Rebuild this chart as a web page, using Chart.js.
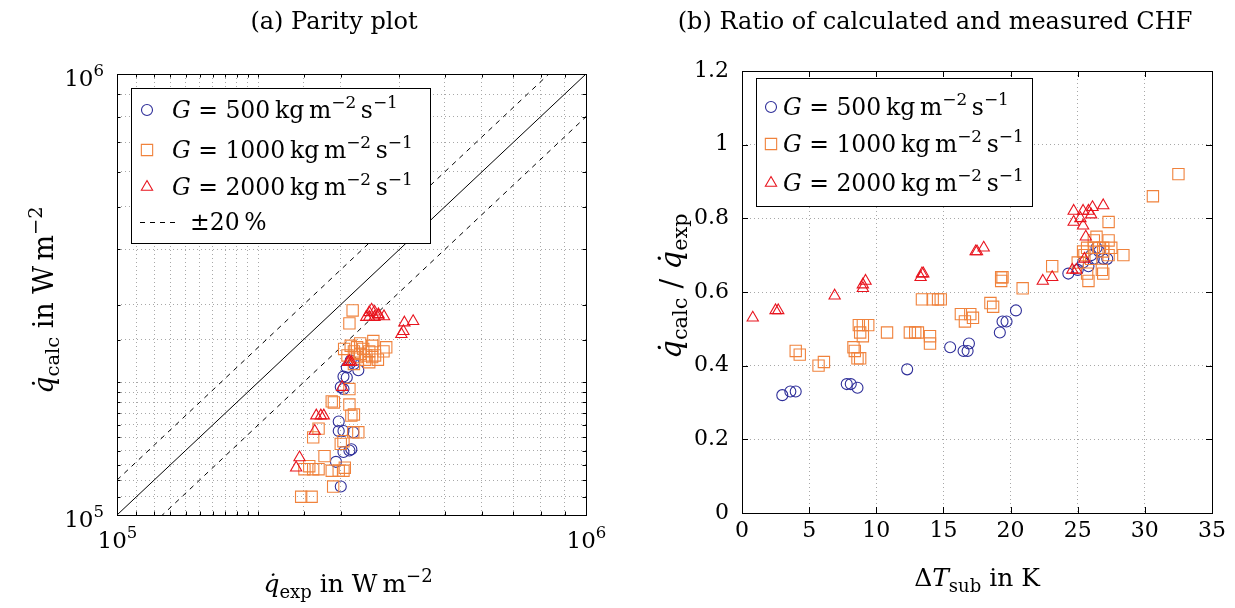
<!DOCTYPE html>
<html lang="en">
<head>
<meta charset="UTF-8">
<title>CHF parity plot and ratio</title>
<script src="https://cdn.jsdelivr.net/npm/chart.js"></script>
<style>
  html, body { margin: 0; padding: 0; background: #fff; }
  body { width: 1235px; height: 608px; position: relative; overflow: hidden; }
  .panel { position: absolute; top: 0; height: 608px; }
  #left { left: 0; width: 617px; }
  #right { left: 617px; width: 618px; }
</style>
</head>
<body>
<div class="panel" id="left"><canvas id="parityChart" width="617" height="608"></canvas></div>
<div class="panel" id="right"><canvas id="ratioChart" width="618" height="608"></canvas></div>

<script>
// ---- data: parity plot, [q_exp, q_calc] in W/m^2 ----
const parity500 = [
  [3.09e5, 2.16e5], [3.27e5, 2.13e5], [3.04e5, 2.06e5], [3.09e5, 2.05e5], [3.00e5, 1.95e5],
  [3.04e5, 1.93e5], [2.97e5, 1.63e5], [2.97e5, 1.55e5], [3.04e5, 1.55e5], [3.19e5, 1.54e5],
  [3.04e5, 1.39e5], [3.13e5, 1.40e5], [3.16e5, 1.41e5], [2.93e5, 1.32e5], [3.00e5, 1.16e5],
  [3.20e5, 2.20e5], [3.15e5, 2.24e5]
];
const parity1000 = [
  [3.18e5, 2.91e5], [3.13e5, 2.72e5], [3.52e5, 2.48e5], [3.05e5, 2.38e5], [3.15e5, 2.42e5],
  [3.20e5, 2.35e5], [3.25e5, 2.40e5], [3.30e5, 2.45e5], [3.35e5, 2.38e5], [3.40e5, 2.30e5],
  [3.45e5, 2.35e5], [3.50e5, 2.42e5], [3.55e5, 2.30e5], [3.60e5, 2.25e5], [3.25e5, 2.28e5],
  [3.30e5, 2.32e5], [3.38e5, 2.25e5], [3.45e5, 2.22e5], [3.20e5, 2.20e5], [3.70e5, 2.35e5],
  [3.75e5, 2.40e5], [3.10e5, 2.30e5], [3.50e5, 2.28e5], [3.13e5, 1.93e5], [2.87e5, 1.81e5],
  [2.90e5, 1.80e5], [3.13e5, 1.78e5], [3.20e5, 1.69e5], [3.16e5, 1.68e5], [2.69e5, 1.57e5],
  [2.62e5, 1.50e5], [3.04e5, 1.47e5], [3.00e5, 1.45e5], [3.19e5, 1.54e5], [3.27e5, 1.54e5],
  [2.77e5, 1.36e5], [2.51e5, 1.27e5], [2.57e5, 1.29e5], [2.62e5, 1.27e5], [2.69e5, 1.27e5],
  [2.87e5, 1.26e5], [2.97e5, 1.26e5], [3.04e5, 1.26e5], [3.06e5, 1.28e5], [2.89e5, 1.16e5],
  [2.47e5, 1.10e5], [2.60e5, 1.10e5]
];
const parity2000 = [
  [3.49e5, 2.92e5], [3.54e5, 2.89e5], [3.45e5, 2.88e5], [3.61e5, 2.85e5], [3.71e5, 2.82e5],
  [3.40e5, 2.81e5], [3.45e5, 2.81e5], [3.54e5, 2.81e5], [3.61e5, 2.83e5], [4.10e5, 2.73e5],
  [4.28e5, 2.75e5], [4.08e5, 2.61e5], [4.04e5, 2.57e5], [3.13e5, 2.23e5], [3.11e5, 2.22e5],
  [3.16e5, 2.22e5], [3.02e5, 1.95e5], [2.66e5, 1.68e5], [2.72e5, 1.68e5], [2.76e5, 1.68e5],
  [2.64e5, 1.55e5], [2.45e5, 1.35e5], [2.41e5, 1.28e5]
];
const parityFactors = [1, 1.2, 0.8];   // ideal line and +-20 % band
const parityRange = [1e5, 1e6];

// ---- data: ratio plot, [dT_sub in K, q_calc / q_exp] ----
const ratio500 = [
  [3.0, 0.32], [3.6, 0.33], [4.0, 0.33], [7.8, 0.35], [8.1, 0.35], [8.6, 0.34], [12.3, 0.39],
  [15.5, 0.45], [16.5, 0.44], [16.8, 0.44], [16.9, 0.46], [19.2, 0.49], [19.4, 0.52], [19.7, 0.52],
  [20.4, 0.55], [24.3, 0.65], [25.0, 0.66], [25.4, 0.68], [25.8, 0.67], [26.0, 0.70], [26.2, 0.69],
  [26.6, 0.71], [26.9, 0.69], [27.2, 0.69], [26.4, 0.72]
];
const ratio1000 = [
  [4.0, 0.44], [4.3, 0.43], [5.7, 0.40], [6.1, 0.41], [8.3, 0.45], [8.4, 0.44], [8.6, 0.42],
  [8.8, 0.42], [8.7, 0.51], [8.8, 0.49], [9.0, 0.48], [9.0, 0.51], [9.4, 0.51], [10.8, 0.49],
  [12.5, 0.49], [12.9, 0.49], [13.1, 0.49], [13.4, 0.58], [14.2, 0.58], [14.6, 0.58], [14.8, 0.58],
  [14.0, 0.48], [14.0, 0.46], [16.3, 0.54], [17.0, 0.54], [16.6, 0.52], [17.2, 0.53], [18.5, 0.57],
  [18.7, 0.56], [19.3, 0.64], [19.4, 0.64], [19.3, 0.63], [20.9, 0.61], [23.1, 0.67], [27.3, 0.79],
  [30.6, 0.86], [32.5, 0.92], [26.4, 0.75], [27.3, 0.74], [28.4, 0.70], [26.9, 0.65], [25.7, 0.72],
  [26.2, 0.72], [26.6, 0.72], [26.9, 0.72], [27.5, 0.72], [25.4, 0.71], [26.0, 0.69], [26.9, 0.71],
  [25.0, 0.68], [25.7, 0.65], [25.8, 0.63], [26.8, 0.66], [27.3, 0.70], [25.5, 0.70], [26.2, 0.74]
];
const ratio2000 = [
  [0.8, 0.53], [2.5, 0.55], [2.7, 0.55], [6.9, 0.59], [9.0, 0.61], [9.0, 0.62], [9.2, 0.63],
  [13.3, 0.64], [13.4, 0.65], [13.5, 0.65], [17.4, 0.71], [17.5, 0.71], [18.0, 0.72], [22.4, 0.63],
  [23.1, 0.64], [24.7, 0.82], [24.7, 0.79], [25.2, 0.80], [25.4, 0.82], [25.8, 0.82], [26.0, 0.81],
  [26.1, 0.83], [26.9, 0.835], [25.4, 0.78], [25.6, 0.75], [24.6, 0.66], [24.9, 0.66], [25.5, 0.69]
];
const ratioXTicks = [0, 35, 5];       // min, max, step
const ratioYTicks = [0, 1.2, 0.2];

const massFluxes = ['500', '1000', '2000'];
const seriesColors = ['#2e2e99', '#f0823c', '#e8141e'];
const seriesMarkers = ['circle', 'rect', 'triangle'];
const markerRadius = { circle: 5.5, rect: 8, triangle: 6.5 };

// ---- helpers ----
const FONT = '"DejaVu Serif", "Liberation Serif", serif';

function segFont(s, size) {
  const sz = (s.sub || s.sup) ? size * 0.72 : size;
  return (s.i ? 'italic ' : '') + sz + 'px ' + FONT;
}
function richWidth(ctx, segs, size) {
  let w = 0;
  segs.forEach(s => { ctx.font = segFont(s, size); w += ctx.measureText(s.t).width; });
  return w;
}
function drawRich(ctx, segs, x, y, size, align) {
  const w = richWidth(ctx, segs, size);
  let cx = align === 'center' ? x - w / 2 : align === 'right' ? x - w : x;
  ctx.textAlign = 'left';
  ctx.textBaseline = 'alphabetic';
  ctx.fillStyle = '#000';
  segs.forEach(s => {
    ctx.font = segFont(s, size);
    const dy = s.sub ? size * 0.22 : s.sup ? -size * 0.42 : 0;
    ctx.fillText(s.t, cx, y + dy);
    cx += ctx.measureText(s.t).width;
  });
}
function drawMarker(ctx, type, x, y, color) {
  const r = markerRadius[type];
  ctx.strokeStyle = color;
  ctx.lineWidth = 1.1;
  ctx.setLineDash([]);
  ctx.beginPath();
  if (type === 'circle') {
    ctx.arc(x, y, r, 0, Math.PI * 2);
  } else if (type === 'rect') {
    const h = r * Math.SQRT1_2;
    ctx.rect(x - h, y - h, 2 * h, 2 * h);
  } else {
    ctx.moveTo(x, y - r);
    ctx.lineTo(x + r * 0.866, y + r * 0.5);
    ctx.lineTo(x - r * 0.866, y + r * 0.5);
    ctx.closePath();
  }
  ctx.stroke();
}
const gLabel = g => [
  { t: 'G', i: 1 }, { t: ' = ' + g + '\u2009kg\u2009m' }, { t: '\u22122', sup: 1 },
  { t: '\u2009s' }, { t: '\u22121', sup: 1 }
];
const isDecade = v => Math.abs(Math.log10(v) - Math.round(Math.log10(v))) < 1e-9;
const decadeSegs = v => [{ t: '10' }, { t: String(Math.round(Math.log10(v))), sup: 1 }];

// frame, inward ticks, decade labels, titles and boxed legend
const decor = {
  id: 'decor',
  afterDraw(chart, args, o) {
    const ctx = chart.ctx, a = chart.chartArea;
    ctx.save();
    ctx.strokeStyle = '#000';
    ctx.lineWidth = 1;
    ctx.setLineDash([]);
    ['x', 'y'].forEach(id => {
      const sc = chart.scales[id];
      sc.ticks.forEach(t => {
        const p = Math.round(sc.getPixelForValue(t.value)) + 0.5;
        const len = o.isMajor(t.value) ? 6 : 3.5;
        ctx.strokeStyle = '#000';
        ctx.beginPath();
        if (id === 'x') {
          ctx.moveTo(p, a.bottom); ctx.lineTo(p, a.bottom - len);
          ctx.moveTo(p, a.top); ctx.lineTo(p, a.top + len);
        } else {
          ctx.moveTo(a.left, p); ctx.lineTo(a.left + len, p);
          ctx.moveTo(a.right, p); ctx.lineTo(a.right - len, p);
        }
        ctx.stroke();
        if (o.logLabels && isDecade(t.value)) {
          if (id === 'x') drawRich(ctx, decadeSegs(t.value), p, a.bottom + 33, 23, 'center');
          else drawRich(ctx, decadeSegs(t.value), a.left - 13, p + 11, 23, 'right');
        }
      });
    });
    ctx.strokeStyle = '#000';
    ctx.strokeRect(Math.round(a.left) + 0.5, Math.round(a.top) + 0.5,
      Math.round(a.right - a.left), Math.round(a.bottom - a.top));

    // titles
    drawRich(ctx, [{ t: o.title }], o.titlePos[0], o.titlePos[1], 24, 'center');
    drawRich(ctx, o.xTitle, o.xTitlePos[0], o.xTitlePos[1], 25, 'center');
    ctx.save();
    ctx.translate(o.yTitlePos[0], o.yTitlePos[1]);
    ctx.rotate(-Math.PI / 2);
    drawRich(ctx, o.yTitle, 0, 0, o.yTitleSize, 'center');
    ctx.restore();

    // legend
    const L = o.legend;
    ctx.fillStyle = '#fff';
    ctx.fillRect(L.x, L.y, L.w, L.h);
    ctx.strokeStyle = '#000';
    ctx.lineWidth = 1;
    ctx.strokeRect(L.x + 0.5, L.y + 0.5, L.w, L.h);
    massFluxes.forEach((g, i) => {
      const cy = L.rows[i];
      drawMarker(ctx, seriesMarkers[i], L.markerX, cy, seriesColors[i]);
      drawRich(ctx, gLabel(g), L.textX, cy + 8, 23.5, 'left');
    });
    if (L.band) {
      const cy = L.rows[3];
      ctx.strokeStyle = '#000';
      ctx.lineWidth = 1;
      ctx.setLineDash([5, 5]);
      ctx.beginPath();
      ctx.moveTo(L.band[0], cy + 0.5); ctx.lineTo(L.band[1], cy + 0.5);
      ctx.stroke();
      ctx.setLineDash([]);
      drawRich(ctx, [{ t: '\u00b120\u2009%' }], L.band[2], cy + 8, 23.5, 'left');
    }
    ctx.restore();
  }
};

const toPoints = arr => arr.map(p => ({ x: p[0], y: p[1] }));
function markerSets(sets) {
  return sets.map((arr, i) => ({
    type: 'scatter',
    label: 'G = ' + massFluxes[i],
    data: toPoints(arr),
    pointStyle: seriesMarkers[i],
    pointRadius: markerRadius[seriesMarkers[i]],
    borderColor: seriesColors[i],
    backgroundColor: 'rgba(0,0,0,0)',
    borderWidth: 1.1,
    order: 2 - i
  }));
}
const gridOpts = { color: '#a8a8a8', lineWidth: 1, drawTicks: false };
const borderOpts = { display: false, dash: [1, 3] };
const tickFont = { family: FONT, size: 22 };

// ---- (a) parity plot ----
new Chart(document.getElementById('parityChart'), {
  type: 'scatter',
  data: {
    datasets: markerSets([parity500, parity1000, parity2000]).concat(parityFactors.map(f => ({
      type: 'line',
      data: parityRange.map(v => ({ x: v, y: f * v })),
      borderColor: '#000',
      borderWidth: 1,
      borderDash: f === 1 ? [] : [5, 5],
      pointRadius: 0,
      fill: false,
      order: 5
    })))
  },
  options: {
    responsive: false,
    animation: false,
    layout: { padding: { left: 0, right: 31, top: 74, bottom: 0 } },
    plugins: {
      legend: { display: false },
      tooltip: { enabled: false },
      decor: {
        isMajor: isDecade,
        logLabels: true,
        title: '(a) Parity plot', titlePos: [334, 29],
        xTitle: [{ t: 'q\u0307', i: 1 }, { t: 'exp', sub: 1 }, { t: ' in W\u2009m' }, { t: '\u22122', sup: 1 }],
        xTitlePos: [348, 592],
        yTitle: [{ t: 'q\u0307', i: 1 }, { t: 'calc', sub: 1 }, { t: ' in W\u2009m' }, { t: '\u22122', sup: 1 }],
        yTitlePos: [53, 300], yTitleSize: 27,
        legend: { x: 131, y: 88, w: 299, h: 155, rows: [110, 150, 187, 222], markerX: 147, textX: 172, band: [140, 180, 190] }
      }
    },
    scales: {
      x: {
        type: 'logarithmic', min: parityRange[0], max: parityRange[1],
        afterFit(s) { s.height = 93; },
        grid: gridOpts, border: borderOpts,
        ticks: { autoSkip: false, maxRotation: 0, padding: 8, font: tickFont, callback: () => '' }
      },
      y: {
        type: 'logarithmic', min: parityRange[0], max: parityRange[1],
        afterFit(s) { s.width = 117; },
        grid: gridOpts, border: borderOpts,
        ticks: { autoSkip: false, padding: 9, font: tickFont, callback: () => '' }
      }
    }
  },
  plugins: [decor]
});

// ---- (b) ratio of calculated and measured CHF ----
new Chart(document.getElementById('ratioChart'), {
  type: 'scatter',
  data: { datasets: markerSets([ratio500, ratio1000, ratio2000]) },
  options: {
    responsive: false,
    animation: false,
    layout: { padding: { left: 0, right: 23, top: 71, bottom: 0 } },
    plugins: {
      legend: { display: false },
      tooltip: { enabled: false },
      decor: {
        isMajor: () => true,
        title: '(b) Ratio of calculated and measured CHF', titlePos: [318, 29],
        xTitle: [{ t: '\u0394' }, { t: 'T', i: 1 }, { t: 'sub', sub: 1 }, { t: ' in K' }],
        xTitlePos: [360, 586],
        yTitle: [{ t: 'q\u0307', i: 1 }, { t: 'calc', sub: 1 }, { t: ' / ' }, { t: 'q\u0307', i: 1 }, { t: 'exp', sub: 1 }],
        yTitlePos: [64, 286], yTitleSize: 29,
        legend: { x: 139, y: 78, w: 276, h: 128, rows: [107, 144, 183], markerX: 154, textX: 166 }
      }
    },
    scales: {
      x: {
        type: 'linear', min: ratioXTicks[0], max: ratioXTicks[1],
        afterFit(s) { s.height = 95; },
        grid: gridOpts, border: borderOpts,
        ticks: { stepSize: ratioXTicks[2], autoSkip: false, maxRotation: 0, padding: 5, color: '#000', font: tickFont }
      },
      y: {
        type: 'linear', min: ratioYTicks[0], max: ratioYTicks[1],
        afterFit(s) { s.width = 125; },
        grid: gridOpts, border: borderOpts,
        ticks: { stepSize: ratioYTicks[2], autoSkip: false, padding: 13, color: '#000', font: tickFont,
          callback: v => Number(v.toFixed(1)).toString() }
      }
    }
  },
  plugins: [decor]
});
</script>
</body>
</html>
